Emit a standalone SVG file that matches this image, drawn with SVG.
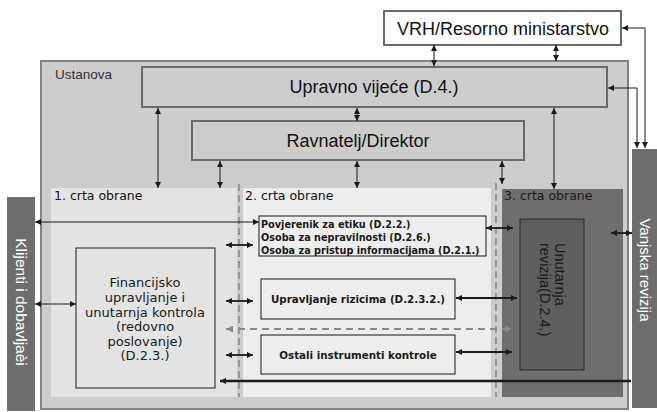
<svg xmlns="http://www.w3.org/2000/svg" width="657" height="412" viewBox="0 0 657 412">
<defs>
<style>
.arial{font-family:"Liberation Sans",Arial,sans-serif}
.dv{font-family:"DejaVu Sans",Verdana,sans-serif}
.box{fill:#cdcdcd;stroke:#6a6a6a;stroke-width:2}
.thin{fill:none;stroke:#1a1a1a;stroke-width:1}
.bold{fill:none;stroke:#1a1a1a;stroke-width:1.8}
.vdash{fill:none;stroke:#8a8a8a;stroke-width:1.6;stroke-dasharray:7 4}
.bar{fill:#6e6e6e}
</style>
<marker id="a" viewBox="0 0 10 10" refX="10" refY="5" markerWidth="6" markerHeight="6" markerUnits="userSpaceOnUse" orient="auto-start-reverse"><path d="M0,0 L10,5 L0,10 z" fill="#1a1a1a"/></marker>
<marker id="b" viewBox="0 0 10 10" refX="10" refY="5" markerWidth="7" markerHeight="6" markerUnits="userSpaceOnUse" orient="auto-start-reverse"><path d="M0,0 L10,5 L0,10 z" fill="#1a1a1a"/></marker>
<marker id="g" viewBox="0 0 10 10" refX="10" refY="5" markerWidth="8" markerHeight="7" markerUnits="userSpaceOnUse" orient="auto-start-reverse"><path d="M0,0 L10,5 L0,10 z" fill="#8a8a8a"/></marker>
</defs>
<rect width="657" height="412" fill="#ffffff"/>

<g id="ustanova">
<rect x="41" y="61" width="587" height="348" fill="#cdcdcd" stroke="#828282" stroke-width="2"/>
<text class="arial" x="55" y="79" font-size="13.5" fill="#333">Ustanova</text>
</g>

<g id="vrh">
<rect x="384" y="11" width="237" height="34" fill="#ffffff" stroke="#6a6a6a" stroke-width="2"/>
<text class="arial" x="503" y="35" font-size="18" text-anchor="middle" fill="#111">VRH/Resorno ministarstvo</text>
</g>

<g id="upravno">
<rect class="box" x="142" y="67" width="465" height="40"/>
<text class="arial" x="374" y="93" font-size="18" text-anchor="middle" fill="#111">Upravno vijeće (D.4.)</text>
</g>

<g id="ravnatelj">
<rect class="box" x="192" y="121" width="332" height="39"/>
<text class="arial" x="358" y="147" font-size="18" text-anchor="middle" fill="#111">Ravnatelj/Direktor</text>
</g>

<g id="crta1">
<rect x="51" y="188" width="186" height="209" fill="#e4e4e4"/>
<text class="dv" x="54" y="200" font-size="12.5" fill="#111">1. crta obrane</text>
</g>

<g id="crta2">
<rect x="243" y="188" width="248" height="209" fill="#ededed"/>
<text class="dv" x="245" y="200" font-size="12.5" fill="#111">2. crta obrane</text>
</g>

<g id="crta3">
<rect x="502" y="189" width="121" height="208" fill="#6e6e6e"/>
<text class="dv" x="504" y="200" font-size="12.5" fill="#1a1a1a">3. crta obrane</text>
</g>

<g id="klijenti">
<rect class="bar" x="7" y="197" width="28" height="214"/>
<text class="arial" transform="translate(16,302) rotate(90)" font-size="15.5" text-anchor="middle" fill="#ffffff">Klijenti i dobavljaèi</text>
</g>

<g id="vanjska">
<rect class="bar" x="632" y="149" width="25" height="259"/>
<text class="arial" transform="translate(640,270) rotate(90)" font-size="15" text-anchor="middle" fill="#ffffff">Vanjska revizija</text>
</g>

<g id="financijsko">
<rect x="76" y="248" width="139" height="140" fill="#e4e4e4" stroke="#1a1a1a" stroke-width="1"/>
<g class="dv" font-size="13" text-anchor="middle" fill="#1a1a1a">
<text x="145" y="287">Financijsko</text>
<text x="145" y="302">upravljanje i</text>
<text x="145" y="317">unutarnja kontrola</text>
<text x="145" y="331">(redovno</text>
<text x="145" y="346">poslovanje)</text>
<text x="145" y="360">(D.2.3.)</text>
</g>
</g>

<g id="povjerenik">
<rect x="259" y="216" width="227" height="40" fill="#ededed" stroke="#1a1a1a" stroke-width="1"/>
<g class="dv" font-size="9.7" font-weight="bold" fill="#1a1a1a">
<text x="261" y="228">Povjerenik za etiku (D.2.2.)</text>
<text x="261" y="241">Osoba za nepravilnosti (D.2.6.)</text>
<text x="261" y="254">Osoba za pristup informacijama (D.2.1.)</text>
</g>
</g>

<g id="rizici">
<rect x="261" y="279" width="194" height="40" fill="#ededed" stroke="#1a1a1a" stroke-width="1"/>
<text class="dv" x="358" y="303" font-size="10.3" font-weight="bold" text-anchor="middle" fill="#1a1a1a">Upravljanje rizicima (D.2.3.2.)</text>
</g>

<g id="ostali">
<rect x="261" y="335" width="194" height="39" fill="#ededed" stroke="#1a1a1a" stroke-width="1"/>
<text class="dv" x="358" y="359" font-size="10.3" font-weight="bold" text-anchor="middle" fill="#1a1a1a">Ostali instrumenti kontrole</text>
</g>

<g id="unutarnja">
<rect x="520" y="219" width="64" height="151" fill="#5e5e5e" stroke="#2a2a2a" stroke-width="1"/>
<text class="arial" transform="translate(555,243) rotate(90)" font-size="14.5" fill="#1a1a1a">Unutarnja</text>
<text class="arial" transform="translate(540,243) rotate(90)" font-size="14.5" fill="#1a1a1a">revizija(D.2.4.)</text>
</g>

<g id="connectors">
<line class="vdash" x1="239" y1="184" x2="239" y2="397"/>
<line class="vdash" x1="496" y1="183" x2="496" y2="397"/>
<line class="thin" x1="158" y1="108" x2="158" y2="188" marker-start="url(#a)" marker-end="url(#a)"/>
<line class="thin" x1="220" y1="161" x2="220" y2="188" marker-start="url(#a)" marker-end="url(#a)"/>
<line class="thin" x1="357" y1="108" x2="357" y2="121" marker-start="url(#a)" marker-end="url(#a)"/>
<line class="thin" x1="357" y1="161" x2="357" y2="188" marker-start="url(#a)" marker-end="url(#a)"/>
<line class="thin" x1="502" y1="161" x2="502" y2="184" marker-start="url(#a)" marker-end="url(#a)"/>
<line class="thin" x1="554" y1="108" x2="554" y2="189" marker-start="url(#a)" marker-end="url(#a)"/>
<line class="thin" x1="434" y1="45" x2="434" y2="66" marker-start="url(#a)" marker-end="url(#a)"/>
<line class="thin" x1="556" y1="45" x2="556" y2="61" marker-start="url(#a)" marker-end="url(#a)"/>
<polyline class="thin" points="622,28 645,28 645,148" marker-start="url(#a)" marker-end="url(#a)"/>
<polyline class="thin" points="608,88 637,88 637,148" marker-start="url(#a)" marker-end="url(#a)"/>
<line class="thin" x1="35" y1="222" x2="259" y2="222" marker-start="url(#a)" marker-end="url(#a)"/>
<line class="thin" x1="35" y1="304" x2="76" y2="304" marker-start="url(#a)" marker-end="url(#a)"/>
<line class="bold" x1="611" y1="233" x2="632" y2="233" marker-start="url(#b)" marker-end="url(#b)"/>
<line class="bold" x1="226" y1="245" x2="253" y2="245" marker-start="url(#b)" marker-end="url(#b)"/>
<line class="bold" x1="226" y1="301" x2="253" y2="301" marker-start="url(#b)" marker-end="url(#b)"/>
<line class="bold" x1="226" y1="355" x2="253" y2="355" marker-start="url(#b)" marker-end="url(#b)"/>
<line class="bold" x1="486" y1="228" x2="513" y2="228" marker-start="url(#b)" marker-end="url(#b)"/>
<line class="bold" x1="456" y1="298" x2="517" y2="298" marker-start="url(#b)" marker-end="url(#b)"/>
<line class="bold" x1="456" y1="352" x2="512" y2="352" marker-start="url(#b)" marker-end="url(#b)"/>
<line x1="226" y1="329" x2="512" y2="329" stroke="#8a8a8a" stroke-width="2" stroke-dasharray="7 5" marker-start="url(#g)" marker-end="url(#g)"/>
<line x1="631" y1="381" x2="220" y2="381" stroke="#1a1a1a" stroke-width="2.5" marker-end="url(#b)"/>
</g>
</svg>
